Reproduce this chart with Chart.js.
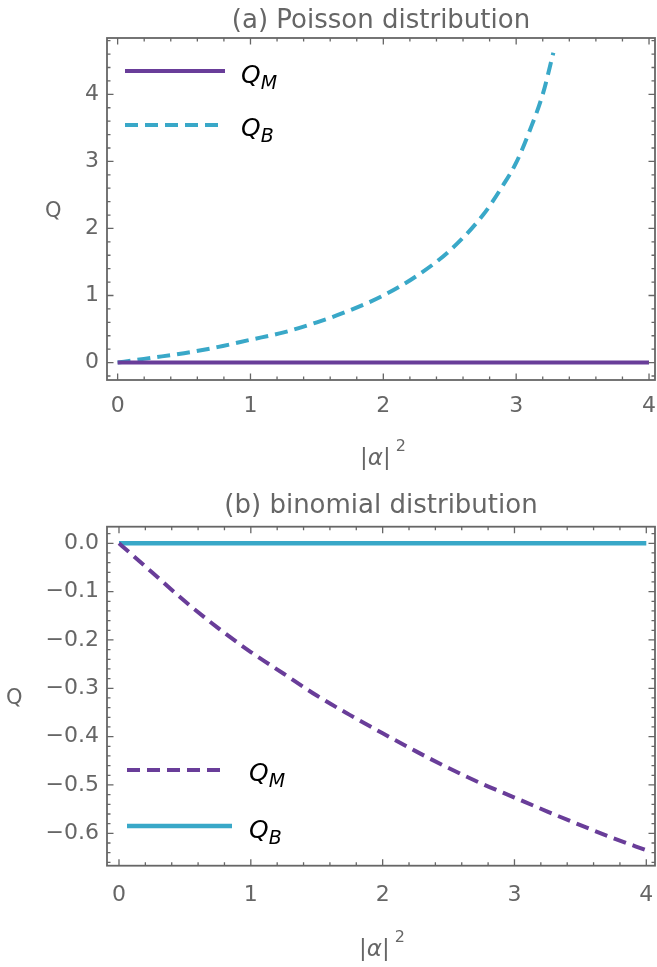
<!DOCTYPE html>
<html><head><meta charset="utf-8">
<script src="https://cdn.jsdelivr.net/npm/chart.js@4.4.1/dist/chart.umd.min.js"></script>
<style>
html,body{margin:0;padding:0;background:#fff;}
#wrap{position:relative;width:657px;height:967px;overflow:hidden;font-family:"DejaVu Sans",sans-serif;}
canvas{position:absolute;left:0;}
.t{position:absolute;white-space:nowrap;line-height:1;}
.title{font-size:26px;color:#666;transform:translateX(-50%);}
.ylab{font-size:21px;color:#666;}
.xlab{font-size:23px;color:#666;transform:translateX(-50%);}
.xlab i{font-style:oblique;}
.xlab sup{font-size:16px;position:relative;top:-14px;vertical-align:baseline;margin-left:5px;}
.leg{font-size:25px;color:#000;font-style:oblique;}
.leg span{font-size:19px;position:relative;top:6px;}
</style></head>
<body>
<div id="wrap">
  <canvas id="cA" width="657" height="483" style="top:0;width:657px;height:483px"></canvas>
  <canvas id="cB" width="657" height="484" style="top:483px;width:657px;height:484px"></canvas>

  <div class="t title" style="left:381px;top:6px">(a) Poisson distribution</div>
  <div class="t ylab" style="left:45px;top:200px">Q</div>
  <div class="t xlab" style="left:383px;top:446px">|<i>α</i>|<sup>2</sup></div>
  <div class="t leg" style="left:241px;top:62px">Q<span>M</span></div>
  <div class="t leg" style="left:241px;top:115px">Q<span>B</span></div>

  <div class="t title" style="left:381px;top:491px">(b) binomial distribution</div>
  <div class="t ylab" style="left:6px;top:687px">Q</div>
  <div class="t xlab" style="left:382px;top:937px">|<i>α</i>|<sup>2</sup></div>
  <div class="t leg" style="left:249px;top:760px">Q<span>M</span></div>
  <div class="t leg" style="left:249px;top:817px">Q<span>B</span></div>
</div>
<script>
// ---------- data ----------
const xTicks  = [0, 1, 2, 3, 4];
const yTicksA = [0, 1, 2, 3, 4];
const yTicksB = [0, -0.1, -0.2, -0.3, -0.4, -0.5, -0.6];

// (a) Poisson distribution
const xPoissonQM = [0, 4];
const qmPoisson  = [0, 0];
const xPoissonQB = [0, 0.25, 0.5, 0.75, 1, 1.25, 1.5, 1.75, 2, 2.25, 2.5, 2.75, 2.9, 3, 3.1, 3.2, 3.28];
const qbPoisson  = [0, 0.07, 0.14, 0.23, 0.34, 0.45, 0.6, 0.78, 1.0, 1.29, 1.67, 2.2, 2.64, 2.98, 3.45, 4.0, 4.62];

// (b) binomial distribution
const xBinomQM = [0, 0.25, 0.5, 0.75, 1, 1.25, 1.5, 1.75, 2, 2.25, 2.5, 2.75, 3, 3.25, 3.5, 3.75, 4];
const qmBinom  = [0, -0.06, -0.12, -0.175, -0.225, -0.27, -0.315, -0.355, -0.393, -0.43, -0.465, -0.497, -0.526, -0.555, -0.583, -0.61, -0.635];
const xBinomQB = [0, 4];
const qbBinom  = [0, 0];

// ---------- style ----------
const PURPLE = '#693D99';
const CYAN   = '#39A8C8';
const GREY   = '#666666';
const DASH   = [13, 7];

const pts = (xs, ys) => xs.map((x, i) => ({x, y: ys[i]}));
const noPad = s => { s.paddingLeft = 0; s.paddingRight = 0; s.paddingTop = 0; s.paddingBottom = 0; };

const framePlugin = {
  id: 'frame',
  afterDatasetsDraw(chart, args, o) {
    const {ctx, chartArea: a, scales: {x, y}} = chart;
    ctx.save();
    ctx.strokeStyle = GREY;
    ctx.lineWidth = 1.8;
    ctx.strokeRect(a.left, a.top, a.right - a.left, a.bottom - a.top);
    ctx.lineWidth = 1.3;
    ctx.beginPath();
    const doX = (v, len) => {
      const p = x.getPixelForValue(v);
      if (p < a.left + 1 || p > a.right - 1) return;
      ctx.moveTo(p, a.bottom); ctx.lineTo(p, a.bottom - len);
      ctx.moveTo(p, a.top); ctx.lineTo(p, a.top + len);
    };
    const doY = (v, len) => {
      const p = y.getPixelForValue(v);
      if (p < a.top + 1 || p > a.bottom - 1) return;
      ctx.moveTo(a.left, p); ctx.lineTo(a.left + len, p);
      ctx.moveTo(a.right, p); ctx.lineTo(a.right - len, p);
    };
    const minor = (scale, step, fn) => {
      const k0 = Math.ceil(scale.min / step - 1e-9), k1 = Math.floor(scale.max / step + 1e-9);
      for (let k = k0; k <= k1; k++) fn(k * step, o.minorLen);
    };
    minor(x, o.xMinor, doX);
    minor(y, o.yMinor, doY);
    x.ticks.forEach(t => doX(t.value, o.majorLen));
    y.ticks.forEach(t => doY(t.value, o.majorLen));
    ctx.stroke();
    // legend sample lines
    (o.legend || []).forEach(it => {
      ctx.beginPath();
      ctx.strokeStyle = it.color;
      ctx.lineWidth = it.width;
      ctx.lineCap = 'butt';
      ctx.setLineDash(it.dash || []);
      ctx.moveTo(a.left + it.x0, a.top + it.y);
      ctx.lineTo(a.left + it.x1, a.top + it.y);
      ctx.stroke();
    });
    ctx.restore();
  }
};

function makeChart(id, cfg) {
  return new Chart(document.getElementById(id), {
    type: 'scatter',
    data: {datasets: cfg.datasets},
    options: {
      responsive: false,
      animation: false,
      events: [],
      layout: {padding: {top: cfg.padTop, right: 2, left: 0, bottom: 0}},
      plugins: {legend: {display: false}, tooltip: {enabled: false}, title: {display: false},
        frame: cfg.frame},
      scales: {
        x: {
          type: 'linear', min: cfg.xMin, max: cfg.xMax,
          grid: {display: false, drawTicks: false},
          border: {display: false},
          afterBuildTicks: s => { s.ticks = xTicks.map(v => ({value: v})); },
          afterFit: s => { s.height = cfg.xHeight; noPad(s); },
          ticks: {color: GREY, font: {family: 'DejaVu Sans', size: 22}, padding: cfg.xPad,
            callback: v => String(v)}
        },
        y: {
          type: 'linear', min: cfg.yMin, max: cfg.yMax,
          grid: {display: false, drawTicks: false},
          border: {display: false},
          afterBuildTicks: s => { s.ticks = cfg.yTicks.map(v => ({value: v})); },
          afterFit: s => { s.width = 107; noPad(s); },
          ticks: {color: GREY, font: {family: 'DejaVu Sans', size: 22}, padding: 8,
            callback: cfg.yFmt}
        }
      }
    },
    plugins: [framePlugin]
  });
}

makeChart('cA', {
  padTop: 38, xHeight: 103, xPad: 13,
  xMin: -0.08, xMax: 4.045, yMin: -0.26, yMax: 4.84,
  yTicks: yTicksA, yFmt: v => String(v),
  datasets: [
    {label: 'Q_M', data: pts(xPoissonQM, qmPoisson), showLine: true, pointRadius: 0,
     borderColor: PURPLE, borderWidth: 4},
    {label: 'Q_B', data: pts(xPoissonQB, qbPoisson), showLine: true, pointRadius: 0,
     borderColor: CYAN, borderWidth: 4, borderDash: DASH, cubicInterpolationMode: 'monotone'}
  ],
  frame: {majorLen: 6.5, minorLen: 3.5, xMinor: 0.2, yMinor: 0.2,
    legend: [
      {color: PURPLE, width: 4, x0: 18, x1: 118, y: 33},
      {color: CYAN, width: 4, dash: DASH, x0: 18, x1: 111, y: 87}
    ]}
});

makeChart('cB', {
  padTop: 43.7, xHeight: 101.3, xPad: 16,
  xMin: -0.091, xMax: 4.066, yMin: -0.667, yMax: 0.0343,
  yTicks: yTicksB, yFmt: v => (Math.abs(v) < 1e-9 ? '0.0' : v.toFixed(1).replace('-', '\u2212')),
  datasets: [
    {label: 'Q_M', data: pts(xBinomQM, qmBinom), showLine: true, pointRadius: 0,
     borderColor: PURPLE, borderWidth: 4, borderDash: DASH, cubicInterpolationMode: 'monotone'},
    {label: 'Q_B', data: pts(xBinomQB, qbBinom), showLine: true, pointRadius: 0,
     borderColor: CYAN, borderWidth: 4.5}
  ],
  frame: {majorLen: 6.5, minorLen: 3.5, xMinor: 0.2, yMinor: 0.02,
    legend: [
      {color: PURPLE, width: 4, dash: DASH, x0: 20, x1: 119, y: 243.3},
      {color: CYAN, width: 4.5, x0: 20, x1: 125, y: 299.3}
    ]}
});
</script>
</body></html>
